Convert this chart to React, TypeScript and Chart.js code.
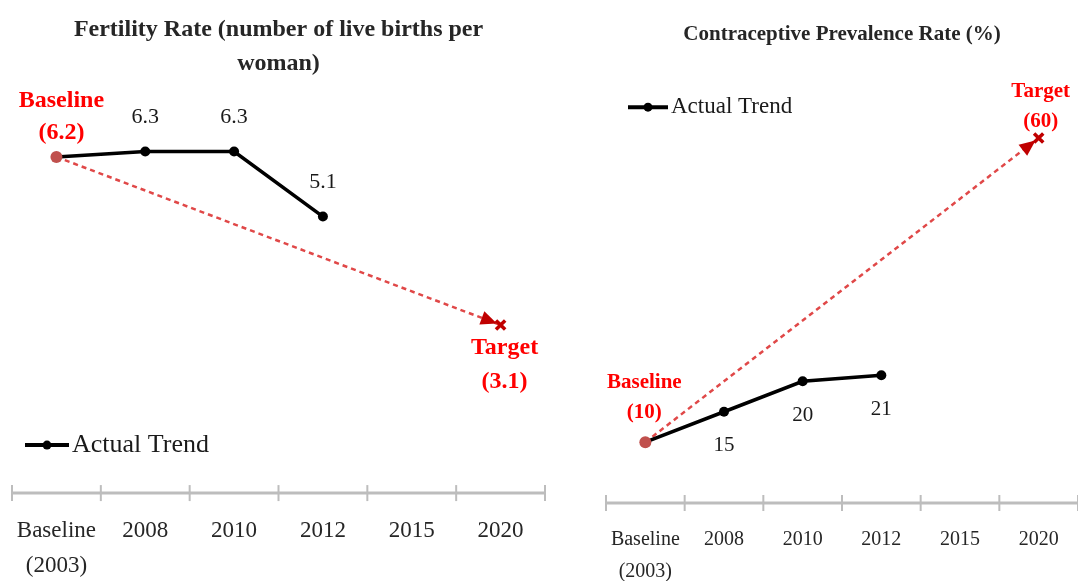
import React, { useEffect, useRef } from 'react';
import { Chart, registerables } from 'chart.js';

Chart.register(...registerables);

const FONT = "'Liberation Serif', 'Times New Roman', serif";

// ---- data ----
const categories: (string | string[])[] = [['Baseline', '(2003)'], '2008', '2010', '2012', '2015', '2020'];
const fertilityActual = [6.2, 6.3, 6.3, 5.1, null, null];
const fertilityTarget = [6.2, null, null, null, null, 3.1];
const cprActual = [10, 15, 20, 21, null, null];
const cprTarget = [10, null, null, null, null, 60];
const fertilityTitle = ['Fertility Rate (number of live births per', 'woman)'];
const cprTitle = 'Contraceptive Prevalence Rate (%)';
const legendLabel = 'Actual Trend';

type Spec = {
  title: string | string[];
  titleSize: number;
  titleLineHeight: number;
  titlePadTop: number;
  titlePadBottom: number;
  padding: { left: number; right: number; top: number; bottom: number };
  canvasHeight: number;
  yMax: number;
  actual: (number | null)[];
  target: (number | null)[];
  tickSize: number;
  tickLineHeight: number;
  tickPad: number;
  labelSize: number;
  redSize: number;
  valueDy: number;
  baseLines: string[];
  baseDx: number;
  baseDy: number[];
  targetLines: string[];
  targetDx: number;
  targetDy: number[];
  legendDx: number;
  legendFromBottom: boolean;
  legendDy: number;
  legendLen: number;
  legendSize: number;
};

function lastIndex(arr: (number | null)[]) {
  let k = -1;
  arr.forEach((v, i) => { if (v !== null) k = i; });
  return k;
}

function makePlugin(spec: Spec) {
  return {
    id: 'decor',
    beforeDatasetsDraw(chart: any) {
      const { ctx, chartArea } = chart;
      const { left, right, bottom } = chartArea;
      const n = categories.length;
      ctx.save();
      ctx.strokeStyle = '#BDBDBD';
      ctx.lineWidth = 3;
      ctx.beginPath();
      ctx.moveTo(left, bottom);
      ctx.lineTo(right, bottom);
      ctx.stroke();
      ctx.lineWidth = 2;
      for (let i = 0; i <= n; i++) {
        const x = left + (i * (right - left)) / n;
        ctx.beginPath();
        ctx.moveTo(x, bottom - 8);
        ctx.lineTo(x, bottom + 8);
        ctx.stroke();
      }
      ctx.restore();
    },
    afterDatasetsDraw(chart: any) {
      const { ctx, chartArea } = chart;
      const actualMeta = chart.getDatasetMeta(0);
      const targetMeta = chart.getDatasetMeta(1);
      const ti = lastIndex(spec.target);
      const p0 = targetMeta.data[0];
      const p1 = targetMeta.data[ti];
      ctx.save();
      // arrow head
      const ang = Math.atan2(p1.y - p0.y, p1.x - p0.x);
      const tipX = p1.x - Math.cos(ang) * 4;
      const tipY = p1.y - Math.sin(ang) * 4;
      const len = 16;
      const hw = 7;
      const bx = tipX - Math.cos(ang) * len;
      const by = tipY - Math.sin(ang) * len;
      ctx.fillStyle = '#C00000';
      ctx.beginPath();
      ctx.moveTo(tipX, tipY);
      ctx.lineTo(bx + Math.sin(ang) * hw, by - Math.cos(ang) * hw);
      ctx.lineTo(bx - Math.sin(ang) * hw, by + Math.cos(ang) * hw);
      ctx.closePath();
      ctx.fill();

      // value labels
      ctx.textAlign = 'center';
      ctx.textBaseline = 'middle';
      ctx.fillStyle = '#1a1a1a';
      ctx.font = `${spec.labelSize}px ${FONT}`;
      spec.actual.forEach((v, i) => {
        if (v === null || i === 0) return;
        const p = actualMeta.data[i];
        ctx.fillText(String(v), p.x, p.y + spec.valueDy);
      });

      // baseline / target labels
      ctx.fillStyle = '#FF0000';
      ctx.font = `bold ${spec.redSize}px ${FONT}`;
      const b = actualMeta.data[0];
      spec.baseLines.forEach((t, k) => ctx.fillText(t, b.x + spec.baseDx, b.y + spec.baseDy[k]));
      spec.targetLines.forEach((t, k) => ctx.fillText(t, p1.x + spec.targetDx, p1.y + spec.targetDy[k]));

      // legend
      const lx = chartArea.left + spec.legendDx;
      const ly = spec.legendFromBottom ? chartArea.bottom - spec.legendDy : chartArea.top + spec.legendDy;
      ctx.strokeStyle = '#000';
      ctx.lineWidth = 4;
      ctx.beginPath();
      ctx.moveTo(lx, ly);
      ctx.lineTo(lx + spec.legendLen, ly);
      ctx.stroke();
      ctx.fillStyle = '#000';
      ctx.beginPath();
      ctx.arc(lx + spec.legendLen / 2, ly, 4.5, 0, Math.PI * 2);
      ctx.fill();
      ctx.fillStyle = '#1a1a1a';
      ctx.textAlign = 'left';
      ctx.font = `${spec.legendSize}px ${FONT}`;
      ctx.fillText(legendLabel, lx + spec.legendLen + 3, ly);
      ctx.restore();
    },
  };
}

function buildConfig(spec: Spec): any {
  const n = spec.actual.length;
  return {
    type: 'line',
    data: {
      labels: categories,
      datasets: [
        {
          label: legendLabel,
          data: spec.actual,
          borderColor: '#000000',
          borderWidth: 3.5,
          pointRadius: spec.actual.map((_, i) => (i === 0 ? 6 : 5)),
          pointBackgroundColor: spec.actual.map((_, i) => (i === 0 ? '#C0504D' : '#000000')),
          pointBorderColor: spec.actual.map((_, i) => (i === 0 ? '#C0504D' : '#000000')),
          pointBorderWidth: 0,
          tension: 0,
          spanGaps: false,
        },
        {
          label: 'Target',
          data: spec.target,
          borderColor: '#E04848',
          borderWidth: 2.5,
          borderDash: [5, 4],
          spanGaps: true,
          tension: 0,
          pointStyle: 'crossRot',
          pointRadius: spec.target.map((_, i) => (i === n - 1 ? 6.5 : 0)),
          pointBorderColor: '#C00000',
          pointBorderWidth: 3.5,
        },
      ],
    },
    options: {
      responsive: false,
      animation: false,
      layout: { padding: spec.padding, autoPadding: false },
      plugins: {
        legend: { display: false },
        tooltip: { enabled: false },
        title: {
          display: true,
          text: spec.title,
          color: '#262626',
          font: { family: FONT, size: spec.titleSize, weight: 'bold', lineHeight: spec.titleLineHeight },
          padding: { top: spec.titlePadTop, bottom: spec.titlePadBottom },
        },
      },
      scales: {
        x: {
          type: 'category',
          offset: true,
          grid: { display: false },
          border: { display: false },
          ticks: {
            autoSkip: false,
            maxRotation: 0,
            color: '#262626',
            padding: spec.tickPad,
            font: { family: FONT, size: spec.tickSize, lineHeight: spec.tickLineHeight },
          },
        },
        y: { display: false, min: 0, max: spec.yMax },
      },
    },
    plugins: [makePlugin(spec)],
  };
}

const fertilitySpec: Spec = {
  title: fertilityTitle,
  titleSize: 24,
  titleLineHeight: 1.42,
  titlePadTop: 3,
  titlePadBottom: 34,
  padding: { left: 12, right: 15, top: 10, bottom: 0 },
  canvasHeight: 595,
  yMax: 6.97,
  actual: fertilityActual,
  target: fertilityTarget,
  tickSize: 23,
  tickLineHeight: 1.52,
  tickPad: 12,
  labelSize: 22,
  redSize: 24,
  valueDy: -34,
  baseLines: ['Baseline', '(6.2)'],
  baseDx: 5,
  baseDy: [-56, -24],
  targetLines: ['Target', '(3.1)'],
  targetDx: 4,
  targetDy: [23, 57],
  legendDx: 13,
  legendFromBottom: true,
  legendDy: 48,
  legendLen: 44,
  legendSize: 26,
};

const cprSpec: Spec = {
  title: cprTitle,
  titleSize: 21,
  titleLineHeight: 1.15,
  titlePadTop: 13,
  titlePadBottom: 30,
  padding: { left: 16, right: 0, top: 10, bottom: 0 },
  canvasHeight: 601,
  yMax: 70,
  actual: cprActual,
  target: cprTarget,
  tickSize: 20,
  tickLineHeight: 1.6,
  tickPad: 13,
  labelSize: 21,
  redSize: 21,
  valueDy: 34,
  baseLines: ['Baseline', '(10)'],
  baseDx: -1,
  baseDy: [-60, -30],
  targetLines: ['Target', '(60)'],
  targetDx: 2,
  targetDy: [-46, -16],
  legendDx: 22,
  legendFromBottom: false,
  legendDy: 30,
  legendLen: 40,
  legendSize: 23,
};

function ChartCanvas({ spec, left, width }: { spec: Spec; left: number; width: number }) {
  const ref = useRef<HTMLCanvasElement | null>(null);
  useEffect(() => {
    if (!ref.current) return;
    const chart = new Chart(ref.current, buildConfig(spec));
    return () => chart.destroy();
  }, [spec]);
  return (
    <canvas
      ref={ref}
      width={width}
      height={spec.canvasHeight}
      style={{ position: 'absolute', left, top: 0, width, height: spec.canvasHeight }}
    />
  );
}

export default function App() {
  return (
    <div
      style={{
        position: 'absolute',
        left: 0,
        top: 0,
        width: 1078,
        height: 581,
        overflow: 'hidden',
        background: '#ffffff',
      }}
    >
      <ChartCanvas spec={fertilitySpec} left={0} width={560} />
      <ChartCanvas spec={cprSpec} left={590} width={488} />
    </div>
  );
}
